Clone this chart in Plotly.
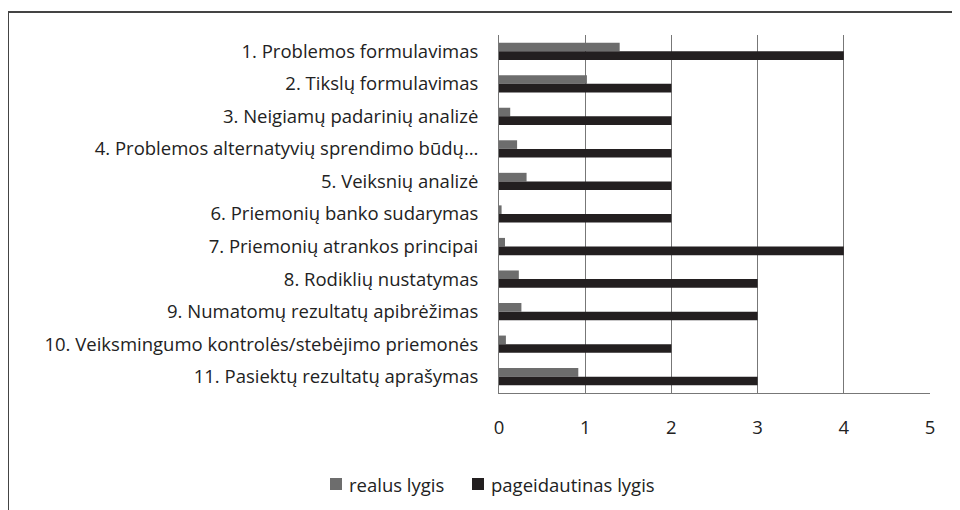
import plotly.graph_objects as go

categories = [
    "1. Problemos formulavimas",
    "2. Tikslų formulavimas",
    "3. Neigiamų padarinių analizė",
    "4. Problemos alternatyvių sprendimo būdų…",
    "5. Veiksnių analizė",
    "6. Priemonių banko sudarymas",
    "7. Priemonių atrankos principai",
    "8. Rodiklių nustatymas",
    "9. Numatomų rezultatų apibrėžimas",
    "10. Veiksmingumo kontrolės/stebėjimo priemonės",
    "11. Pasiektų rezultatų aprašymas",
]
realus = [1.40, 1.02, 0.13, 0.21, 0.32, 0.03, 0.07, 0.23, 0.26, 0.08, 0.92]
pageidautinas = [4, 2, 2, 2, 2, 2, 4, 3, 3, 2, 3]
series_names = ["realus lygis", "pageidautinas lygis"]
series_colors = ["#6d6d6d", "#231f20"]
x_ticks = [0, 1, 2, 3, 4, 5]

FONT = "Open Sans"
FS = 18.5
TXT = "#222"

fig = go.Figure()
fig.add_trace(go.Bar(y=categories, x=realus, name=series_names[0], orientation="h",
                     marker=dict(color=series_colors[0], line=dict(width=0))))
fig.add_trace(go.Bar(y=categories, x=pageidautinas, name=series_names[1], orientation="h",
                     marker=dict(color=series_colors[1], line=dict(width=0))))

OFF = 8  # page body offset
W, H = 952, 502
PL, PR, PT, PB = 499, 930, 35, 393  # plot area in page pixels
L = PL - OFF
T = PT - OFF
R = OFF + W - PR
B = OFF + H - PB
pw = PR - PL
ph = PB - PT


def xp(px):
    return (px - PL) / pw


def yp(py):
    return (PB - py) / ph


fig.update_layout(
    width=W, height=H,
    margin=dict(l=L, r=R, t=T, b=B, pad=0),
    paper_bgcolor="white", plot_bgcolor="white",
    barmode="group", bargap=0.47, bargroupgap=0,
    font=dict(family=FONT, size=FS, color=TXT),
    showlegend=False,
    xaxis=dict(range=[0, 5], tickvals=x_ticks, showgrid=True, gridcolor="#777",
               gridwidth=1, zeroline=False, showline=True, linecolor="#777",
               linewidth=1, ticks="", tickfont=dict(family=FONT, size=FS, color=TXT),
               ticklabelstandoff=18, mirror=False),
    yaxis=dict(type="category", autorange="reversed", showline=True, linecolor="#777",
               linewidth=1, ticks="", showgrid=False,
               tickfont=dict(family=FONT, size=FS, color=TXT),
               ticklabelstandoff=16),
)

# outer chart border
fig.add_shape(type="rect", xref="paper", yref="paper",
              x0=xp(8), x1=1.2, y0=-0.5, y1=yp(12),
              line=dict(color="#444", width=2), fillcolor="rgba(0,0,0,0)", layer="below")

# legend (manual)
legend_marker_x = [330, 472]
legend_text_x = [347, 489]
ly = 484
for name, col, mx, tx in zip(series_names, series_colors, legend_marker_x, legend_text_x):
    fig.add_shape(type="rect", xref="paper", yref="paper",
                  x0=xp(mx), x1=xp(mx + 12), y0=yp(ly + 6), y1=yp(ly - 6),
                  line=dict(width=0), fillcolor=col)
    fig.add_annotation(xref="paper", yref="paper", x=xp(tx), y=yp(ly),
                       xanchor="left", yanchor="middle", showarrow=False,
                       text=name, font=dict(family=FONT, size=FS, color=TXT))

fig.write_html("out.html")
